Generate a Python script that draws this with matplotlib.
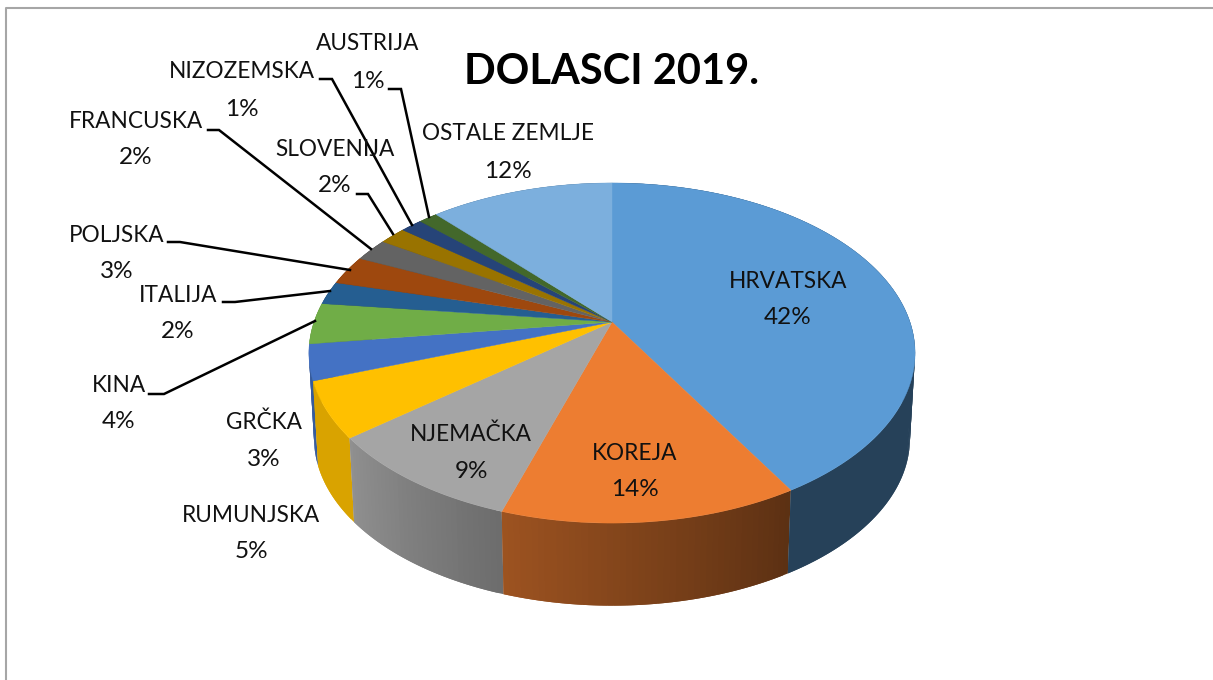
import numpy as np
from matplotlib import pylab as plt
from matplotlib.colors import to_rgb

countries = ["HRVATSKA", "KOREJA", "NJEMAČKA", "RUMUNJSKA", "GRČKA", "KINA", "ITALIJA",
             "POLJSKA", "FRANCUSKA", "SLOVENIJA", "NIZOZEMSKA", "AUSTRIJA", "OSTALE ZEMLJE"]
shares = [41.6, 13.4, 9.3, 5.3, 3.4, 3.9, 2.2, 2.8, 2.2, 1.7, 1.4, 1.2, 11.7]
pct_labels = ["42%", "14%", "9%", "5%", "3%", "4%", "2%", "3%", "2%", "2%", "1%", "1%", "12%"]
colors = ["#5B9BD5", "#ED7D31", "#A5A5A5", "#FFC000", "#4472C4", "#70AD47", "#255E91",
          "#9E480E", "#636363", "#997300", "#264478", "#43682B", "#7CAFDD"]

# side shading, left end and right end of every slice
shade_l = [0.42, 0.66, 0.87, 0.85, 0.8, 0.8, 0.6, 0.6, 0.6, 0.6, 0.6, 0.6, 0.6]
shade_r = [0.42, 0.39, 0.66, 0.85, 0.8, 0.8, 0.6, 0.6, 0.6, 0.6, 0.6, 0.6, 0.6]

name_xy = [(788, 282), (635, 453), (471, 434), (251, 516), (264, 422), (119, 386), (178, 295),
           (117, 235), (136, 122), (335, 150), (242, 72), (368, 43), (508, 134)]
pct_xy = [(788, 318), (635, 490), (471, 471), (251, 552), (264, 459), (119, 422), (178, 332),
          (117, 271), (136, 158), (335, 186), (242, 109), (368, 81), (508, 171)]

leaders = [[(149, 394), (164, 394), (315, 321)],
           [(223, 302), (235, 302), (330, 291)],
           [(168, 242), (180, 242), (350, 270)],
           [(208, 130), (219, 130), (371, 249)],
           [(357, 194), (368, 194), (393, 234)],
           [(320, 79), (332, 79), (412, 225)],
           [(389, 89), (401, 89), (429, 217)]]

# pie geometry in picture pixels
cx, cy = 612, 322
k = 0.1824
a = 298.0
b = 164.4
depth = 86
low_scale = 0.983


def top_rim(th):
    u = np.sin(th)
    v = np.cos(th)
    w = 1 + k * v
    return cx + a * u / w, cy - b * v / w


def low_rim(th):
    x, y = top_rim(th)
    return cx + (x - cx) * low_scale, cy + (y - cy) * low_scale + depth


fig = plt.figure(figsize=(12.13, 6.8), dpi=100)
ax = fig.add_axes([0, 0, 1, 1])
ax.set_xlim(0, 1213)
ax.set_ylim(680, 0)
ax.axis("off")

# window border of the screenshot
ax.plot([6, 6, 1213], [680, 8, 8], color="#A6A6A6", lw=1.5, zorder=1)

edges = np.cumsum([0] + shares) / sum(shares) * 2 * np.pi

# sides first, last slices at the back
for i in reversed(range(len(shares))):
    base = np.array(to_rgb(colors[i]))
    n = max(int((edges[i + 1] - edges[i]) / np.radians(1)), 2)
    th = np.linspace(edges[i], edges[i + 1], n + 1)
    for j in range(n):
        f = j / max(n - 1, 1)
        # angles run clockwise, so on the front the slice goes right to left
        s = shade_r[i] + (shade_l[i] - shade_r[i]) * f
        x1, y1 = top_rim(th[j:j + 3])
        x2, y2 = low_rim(th[j:j + 3])
        ax.fill(np.r_[x1, x2[::-1]], np.r_[y1, y2[::-1]], color=tuple(base * s), lw=0, zorder=2)

# top of the pie
for i in range(len(shares)):
    th = np.linspace(edges[i], edges[i + 1], 80)
    x, y = top_rim(th)
    ax.fill(np.r_[cx, x], np.r_[cy, y], color=colors[i], lw=0.3, zorder=3)

for line in leaders:
    xs, ys = zip(*line)
    ax.plot(xs, ys, color="black", lw=1.8, solid_joinstyle="miter", zorder=4)

font = "Lato"
for i in range(len(countries)):
    ax.text(name_xy[i][0], name_xy[i][1], countries[i], ha="center", va="center",
            family=font, fontsize=16.3, color="#111111", zorder=5)
    ax.text(pct_xy[i][0], pct_xy[i][1], pct_labels[i], ha="center", va="center",
            family=font, fontsize=17.5, color="#111111", zorder=5)

ax.text(612, 72, "DOLASCI 2019.", ha="center", va="center", family=font,
        fontweight="bold", fontsize=30, color="black", zorder=5)

fig.savefig("out.png", dpi=100, facecolor="white")
